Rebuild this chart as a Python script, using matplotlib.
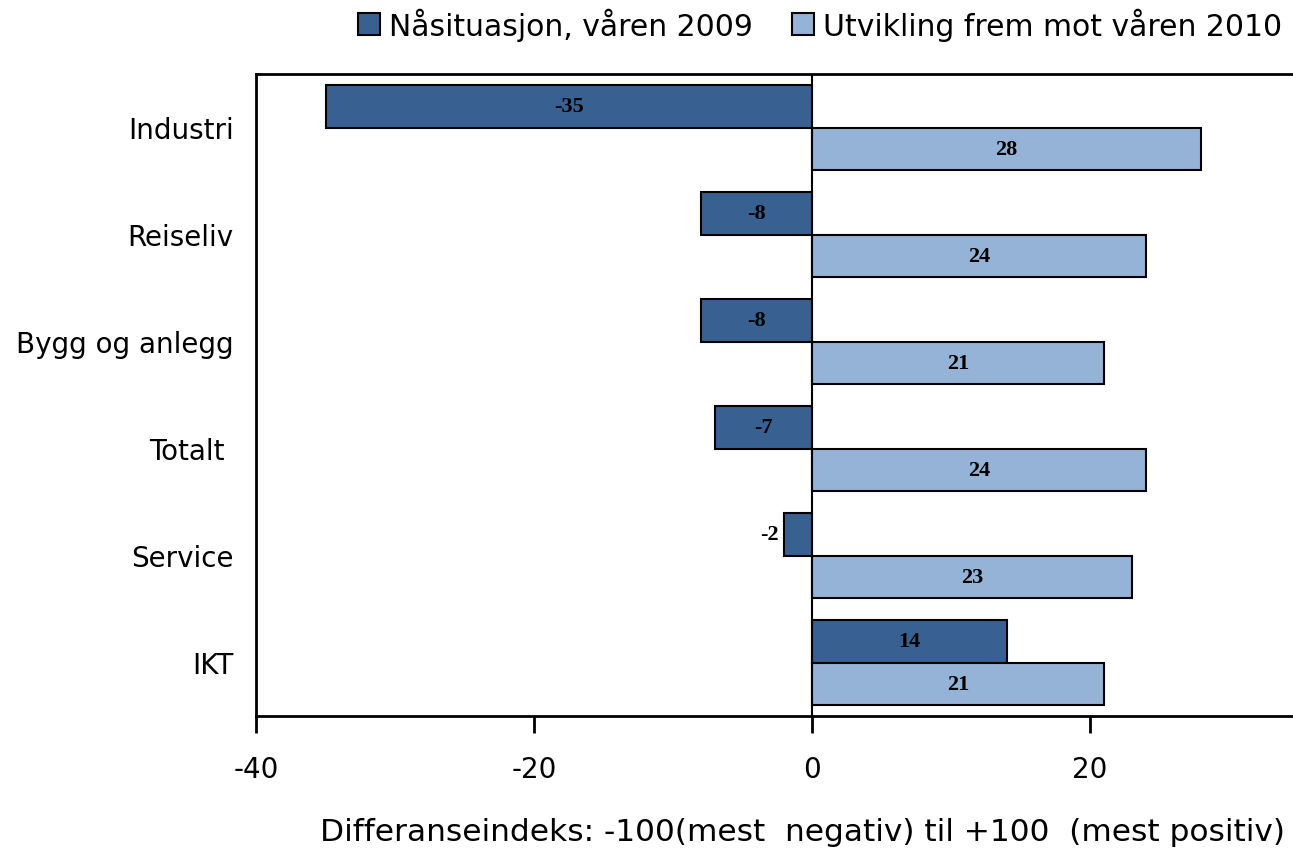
import matplotlib
matplotlib.use("Agg")
import matplotlib.pyplot as plt
from matplotlib.patches import Patch
import numpy as np

# data
kategorier = ["Industri", "Reiseliv", "Bygg og anlegg", "Totalt ", "Service", "IKT"]
naa_2009 = [-35, -8, -8, -7, -2, 14]
utvikling_2010 = [28, 24, 21, 24, 23, 21]
serie_navn = ["Nåsituasjon, våren 2009", "Utvikling frem mot våren 2010"]
x_ticks = [-40, -20, 0, 20]
x_tittel = "Differanseindeks: -100(mest  negativ) til +100  (mest positiv)"

farge_mork = "#386192"
farge_lys = "#95b3d7"

fig = plt.figure(figsize=(12.93, 8.53), dpi=100)
ax = fig.add_axes([256 / 1293, 1 - 717 / 853, 1112 / 1293, 642 / 853])

y = np.arange(len(kategorier))
h = 0.4
b1 = ax.barh(y - h / 2, naa_2009, height=h, color=farge_mork, edgecolor="black", linewidth=1.5)
b2 = ax.barh(y + h / 2, utvikling_2010, height=h, color=farge_lys, edgecolor="black", linewidth=1.5)

lab_font = dict(family="Liberation Serif", fontweight="bold", fontsize=16)
for bars, verdier in [(b1, naa_2009), (b2, utvikling_2010)]:
    for bar, v in zip(bars, verdier):
        yc = bar.get_y() + bar.get_height() / 2
        if abs(v) < 4:
            ax.text(v - 0.4, yc, str(v), ha="right", va="center", **lab_font)
        else:
            ax.text(v / 2, yc, str(v), ha="center", va="center", **lab_font)

ax.set_xlim(-40, 40)
ax.set_ylim(len(kategorier) - 0.5, -0.5)
ax.axvline(0, color="black", linewidth=1.5)

ax.set_yticks(y)
ax.set_yticklabels(kategorier, fontsize=20)
ax.tick_params(axis="y", length=0, pad=16)
ax.set_xticks(x_ticks)
ax.set_xticklabels([str(t) for t in x_ticks], fontsize=20)
ax.tick_params(axis="x", direction="out", length=12, width=2, pad=16)

for s in ["left", "top", "bottom"]:
    ax.spines[s].set_linewidth(2)
ax.spines["right"].set_visible(False)

fig.text(802 / 1293, 1 - 833 / 853, x_tittel, ha="center", va="center", fontsize=22.5)

handles = [Patch(facecolor=farge_mork, edgecolor="black", linewidth=1.5),
           Patch(facecolor=farge_lys, edgecolor="black", linewidth=1.5)]
fig.legend(handles, serie_navn, loc="center", bbox_to_anchor=(820 / 1293, 1 - 25 / 853),
           ncol=2, frameon=False, fontsize=21.5, handlelength=0.75, handleheight=0.75,
           handletextpad=0.3, columnspacing=1.3)

fig.savefig("out.png", dpi=100)
